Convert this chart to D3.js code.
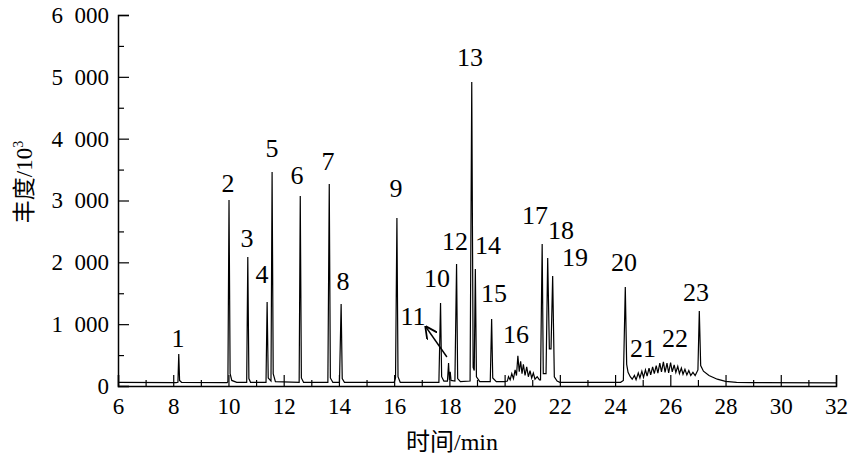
<!DOCTYPE html>
<html><head><meta charset="utf-8">
<script src="https://cdn.jsdelivr.net/npm/d3@7"></script>
<style>body{margin:0;background:#fff}svg{display:block}</style>
</head><body>
<script>
// ---- data: [retention time (min), abundance (x10^3)] ----
const chromatogram = [
[6.0,60],[8.1,55],[8.17,60],[8.2,518],[8.23,90],[8.3,60],
[9.95,55],[9.98,70],[10.02,3008],[10.06,200],[10.12,90],[10.3,60],
[10.66,60],[10.7,2086],[10.74,120],[10.8,60],
[11.36,60],[11.4,1360],[11.44,130],[11.54,80],[11.58,3460],[11.62,200],[11.7,70],
[12.56,60],[12.6,3073],[12.64,130],[12.72,60],
[13.6,60],[13.65,3267],[13.69,130],[13.78,60],
[14.02,60],[14.08,1326],[14.12,120],[14.2,60],
[16.0,60],[16.05,130],[16.1,2717],[16.14,150],[16.22,60],
[17.62,60],[17.68,1342],[17.72,150],[17.8,80],[17.93,80],[17.97,372],[18.0,100],[18.03,230],[18.06,90],
[18.2,80],[18.26,1973],[18.3,120],[18.4,70],
[18.75,80],[18.81,4917],[18.86,300],[18.9,250],[18.94,1892],[18.98,150],[19.1,70],
[19.48,70],[19.53,1084],[19.57,130],[19.7,70],
[20.0,70],[20.1,80],[20.14,150],[20.2,100],[20.26,200],[20.32,120],[20.38,260],[20.43,170],[20.48,490],[20.53,230],
[20.58,400],[20.63,200],[20.68,350],[20.74,170],[20.8,310],[20.86,150],[20.92,250],[20.98,130],[21.04,210],[21.1,110],[21.18,150],[21.26,100],
[21.3,100],[21.36,2297],[21.4,200],[21.5,200],[21.56,2070],[21.62,600],[21.68,600],[21.74,1779],[21.8,150],[21.9,80],[22.0,60],
[24.2,60],[24.3,90],[24.37,1601],[24.42,350],[24.47,220],[24.55,150],[24.62,110],[24.7,170],[24.76,100],[24.84,210],[24.9,130],
[24.97,240],[25.03,140],[25.1,260],[25.16,160],[25.23,290],[25.29,180],[25.36,310],[25.42,200],[25.49,330],[25.55,210],
[25.62,370],[25.68,230],[25.75,390],[25.81,220],[25.88,370],[25.94,210],[26.01,380],[26.07,230],[26.14,340],[26.2,220],
[26.27,320],[26.33,200],[26.4,290],[26.46,190],[26.53,270],[26.6,180],[26.67,250],[26.74,170],[26.82,220],[26.9,170],
[27.0,260],[27.05,1213],[27.1,330],[27.2,240],[27.4,170],[27.7,110],[28.0,75],[28.4,60],[29.0,55],[32.0,50]
];
const peakIds = ["1","2","3","4","5","6","7","8","9","10","11","12","13","14","15","16","17","18","19","20","21","22","23"];
const peakLabelTimes = [8.17,9.98,10.67,11.21,11.58,12.48,13.60,14.15,16.07,17.55,16.68,18.20,18.75,19.40,19.62,20.41,21.10,22.04,22.55,24.32,25.01,26.17,26.93];
const peakLabelAbund = [631,3137,2248,1666,3703,3267,3493,1553,3057,1601,987,2199,5175,2135,1358,695,2620,2377,1941,1860,469,631,1375];
const arrow11 = {from:[17.91,469], to:[17.15,954]};
const xTicks = [6,8,10,12,14,16,18,20,22,24,26,28,30,32];
const yTicks = [0,1000,2000,3000,4000,5000,6000];

// ---- chart ----
const W=850,H=471;
const svg = d3.select("body").append("svg").attr("width",W).attr("height",H);
const x = d3.scaleLinear().domain([6,32]).range([118,836]);
const y = d3.scaleLinear().domain([0,6000]).range([386,15]);
const serif = "Liberation Serif, Times New Roman, serif";

svg.append("defs").append("marker").attr("id","ah").attr("viewBox","0 0 10 10")
  .attr("refX",9).attr("refY",5).attr("markerWidth",9).attr("markerHeight",9).attr("orient","auto")
  .append("path").attr("d","M0,0 L10,5 L0,10").attr("fill","none").attr("stroke","#000").attr("stroke-width",1.4);

const line = d3.line().x(d=>x(d[0])).y(d=>y(d[1]));
svg.append("path").datum(chromatogram).attr("d",line).attr("fill","none").attr("stroke","#000").attr("stroke-width",1.2);

// y axis
svg.append("g").attr("transform","translate(118,0)")
  .call(d3.axisLeft(y).tickValues(yTicks).tickSize(-11).tickPadding(9).tickFormat(d=>d===0?"0":(d/1000)+"\u2002000"));
svg.append("g").attr("transform","translate(118,0)")
  .call(d3.axisLeft(y).tickValues(d3.range(500,6000,1000)).tickSize(-6).tickFormat(""))
  .call(g=>g.select(".domain").remove());
// x axis
svg.append("g").attr("transform","translate(0,386)")
  .call(d3.axisBottom(x).tickValues(xTicks).tickSize(-11).tickPadding(12).tickFormat(d3.format("d")));
svg.append("g").attr("transform","translate(0,386)")
  .call(d3.axisBottom(x).tickValues(d3.range(7,32,2)).tickSize(-6).tickFormat(""))
  .call(g=>g.select(".domain").remove());
svg.selectAll(".domain").attr("stroke-width",1.5).attr("stroke","#000");
svg.selectAll(".tick line").attr("stroke","#000").attr("stroke-width",1.2);
svg.selectAll(".tick text").attr("font-family",serif).attr("font-size",23).attr("fill","#000");

// peak labels
svg.append("g").selectAll("text").data(peakIds).join("text")
  .attr("x",(d,i)=>x(peakLabelTimes[i])).attr("y",(d,i)=>y(peakLabelAbund[i]))
  .attr("text-anchor","middle").attr("font-family",serif).attr("font-size",26).text(d=>d);
svg.append("line").attr("x1",x(arrow11.from[0])).attr("y1",y(arrow11.from[1]))
  .attr("x2",x(arrow11.to[0])).attr("y2",y(arrow11.to[1]))
  .attr("stroke","#000").attr("stroke-width",1.4).attr("marker-end","url(#ah)");

// axis titles
svg.append("text").attr("x",452).attr("y",450).attr("text-anchor","middle")
  .attr("font-size",24).attr("font-family",serif)
  .call(t=>{t.append("tspan").attr("font-family","Noto Sans CJK SC").text("时间");t.append("tspan").text("/min");});
const yt = svg.append("text").attr("transform","translate(32,182) rotate(-90)").attr("text-anchor","middle")
  .attr("font-size",23).attr("font-family",serif);
yt.append("tspan").attr("font-family","Noto Sans CJK SC").text("丰度");
yt.append("tspan").text("/10");
yt.append("tspan").attr("font-size",14).attr("dy",-9).text("3");
</script>
</body></html>
